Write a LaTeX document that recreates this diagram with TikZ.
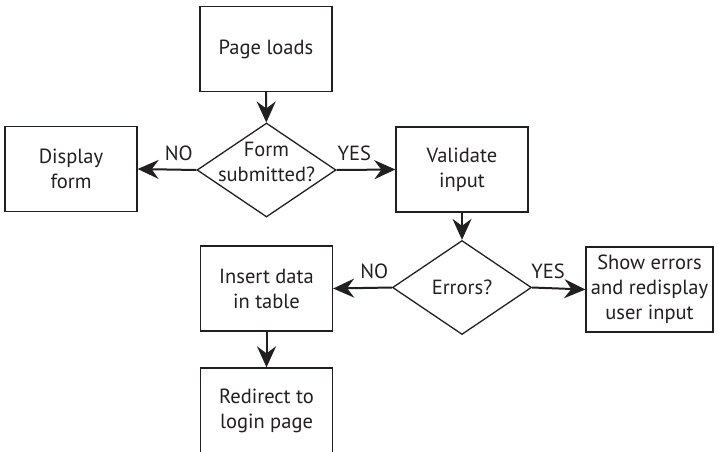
\documentclass[tikz,border=0pt]{standalone}
\usepackage{fontspec}
\setmainfont{PT Sans}
\usetikzlibrary{arrows.meta,positioning,shapes.geometric}
\definecolor{Ink}{HTML}{231F20}
\tikzset{
  arr/.style={-{Stealth[length=21pt,width=19pt,inset=7pt]},line width=2pt,draw=Ink},
  boxstyle/.style={draw=Ink,line width=1.3pt,fill=white,minimum width=132pt,minimum height=85pt,align=center,text=Ink,inner sep=0pt},
  decision/.style={draw=Ink,line width=1.3pt,diamond,minimum width=139pt,minimum height=94pt,inner sep=0pt},
  lbl/.style={above=8pt,pos=.3,inner sep=0pt,text=Ink}
}
\begin{document}
\begin{tikzpicture}[x=1pt,y=-1pt,font=\fontsize{20.5}{25}\selectfont]
  \useasboundingbox (0,0) rectangle (718,451);
  \node[boxstyle] (load) at (266,49) {Page loads};
  \node[decision,label={[align=center,yshift=8.5pt,text=Ink]center:Form\\submitted?}] (form) at (266.5,170) {};
  \node[boxstyle] (display) at (71,169) {Display\\form};
  \node[boxstyle] (validate) at (462,169.5) {Validate\\input};
  \node[decision,label={[text=Ink]center:Errors?}] (errors) at (462,287.5) {};
  \node[boxstyle] (insert) at (266.5,288.5) {Insert data\\in table};
  \node[boxstyle,minimum width=127pt] (showerr) at (649.5,289.5) {Show errors\\and redisplay\\user input};
  \node[boxstyle,minimum height=86pt] (redirect) at (266.5,411) {Redirect to\\login page};
  \draw[arr] (load)--(form);
  \draw[arr] (form.west)--node[lbl]{NO}(display.east);
  \draw[arr] (form.east)--node[lbl]{YES}(validate.west);
  \draw[arr] (validate)--(errors);
  \draw[arr] (errors.west)--node[lbl]{NO}(insert.east);
  \draw[arr] (errors.east)--node[lbl]{YES}(showerr.west);
  \draw[arr] (insert)--(redirect);
\end{tikzpicture}
\end{document}
